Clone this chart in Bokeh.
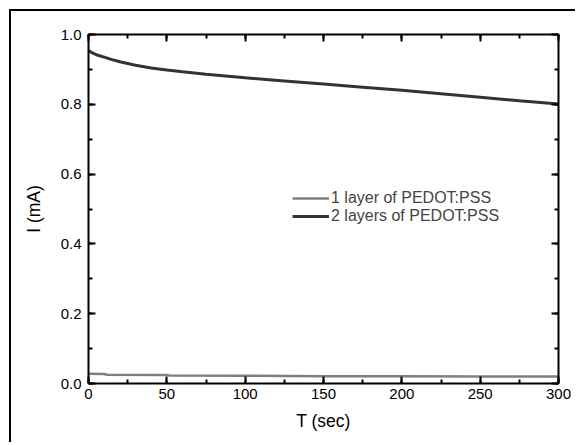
from bokeh.plotting import figure
from bokeh.models import (Range1d, LinearAxis, SingleIntervalTicker, PrintfTickFormatter,
                          CustomJSTickFormatter, Legend, LegendItem)
from bokeh.embed import file_html
from bokeh.resources import INLINE

# data
t2 = [0, 2, 5, 10, 15, 20, 30, 40, 50, 60, 75, 100, 125, 150, 175, 200, 225, 250, 275, 300]
i2 = [0.955, 0.948, 0.942, 0.935, 0.928, 0.922, 0.912, 0.904, 0.898, 0.893, 0.886, 0.876,
      0.867, 0.858, 0.849, 0.840, 0.830, 0.820, 0.810, 0.801]
t1 = [0, 10, 12, 50, 52, 100, 150, 200, 250, 300]
i1 = [0.028, 0.027, 0.025, 0.024, 0.023, 0.022, 0.021, 0.021, 0.020, 0.020]
x_ticks = [0, 50, 100, 150, 200, 250, 300]
y_ticks = [0.0, 0.2, 0.4, 0.6, 0.8, 1.0]
labels = ["1 layer of PEDOT:PSS", "2 layers of PEDOT:PSS"]

FONT = "Liberation Sans"

p = figure(width=566, height=433, output_backend="svg", toolbar_location=None,
           x_range=Range1d(0, 300), y_range=Range1d(0, 1.0),
           min_border_left=77, min_border_right=19, min_border_top=23, min_border_bottom=61,
           x_axis_label="T (sec)", y_axis_label="I (mA)")
p.styles = {"border-left": "2px solid black", "border-top": "2px solid black",
            "margin-left": "9px", "margin-top": "9px"}
p.grid.visible = False
p.outline_line_color = None
p.background_fill_color = "white"
p.border_fill_color = "white"

def style_axis(ax, labels_on=True):
    ax.axis_line_width = 2
    ax.axis_line_color = "black"
    ax.major_tick_in = 7
    ax.major_tick_out = 0
    ax.minor_tick_in = 4
    ax.minor_tick_out = 0
    ax.major_tick_line_width = 2
    ax.minor_tick_line_width = 2
    ax.major_tick_line_color = "black"
    ax.minor_tick_line_color = "black"
    ax.major_label_text_font = FONT
    ax.major_label_text_font_size = "15px"
    ax.major_label_text_color = "black"
    ax.axis_label_text_font = FONT
    ax.axis_label_text_font_size = "17.5px"
    ax.axis_label_text_font_style = "normal"
    ax.axis_label_text_color = "black"
    if not labels_on:
        ax.formatter = CustomJSTickFormatter(code="return ''")

p.xaxis.ticker = SingleIntervalTicker(interval=50, num_minor_ticks=2)
p.yaxis.ticker = SingleIntervalTicker(interval=0.2, num_minor_ticks=2)
p.yaxis.formatter = PrintfTickFormatter(format="%.1f")
for ax in p.xaxis + p.yaxis:
    style_axis(ax)
p.xaxis.major_label_standoff = 5
p.yaxis.major_label_standoff = 7
p.xaxis.axis_label_standoff = 9
p.yaxis.axis_label_standoff = 14

top = LinearAxis(ticker=SingleIntervalTicker(interval=50, num_minor_ticks=2))
right = LinearAxis(ticker=SingleIntervalTicker(interval=0.2, num_minor_ticks=2))
style_axis(top, False)
style_axis(right, False)
top.major_label_standoff = 0
right.major_label_standoff = 0
p.add_layout(top, "above")
p.add_layout(right, "right")

r1 = p.line(t1, i1, line_color="#7f7f7f", line_width=2.5)
r2 = p.line(t2, i2, line_color="#333333", line_width=3)

def make_legend(label, rend, loc):
    lg = Legend(items=[LegendItem(label=label, renderers=[rend])],
                location=loc, padding=0, margin=0, spacing=0,
                glyph_width=37, glyph_height=12, label_height=12, label_standoff=2,
                border_line_color=None, background_fill_alpha=0)
    lg.label_text_font = FONT
    lg.label_text_font_size = "16px"
    return lg

p.add_layout(make_legend(labels[0], r1, (204, 176)), "center")
p.add_layout(make_legend(labels[1], r2, (204, 158)), "center")

open("out.html", "w").write(file_html(p, INLINE))
